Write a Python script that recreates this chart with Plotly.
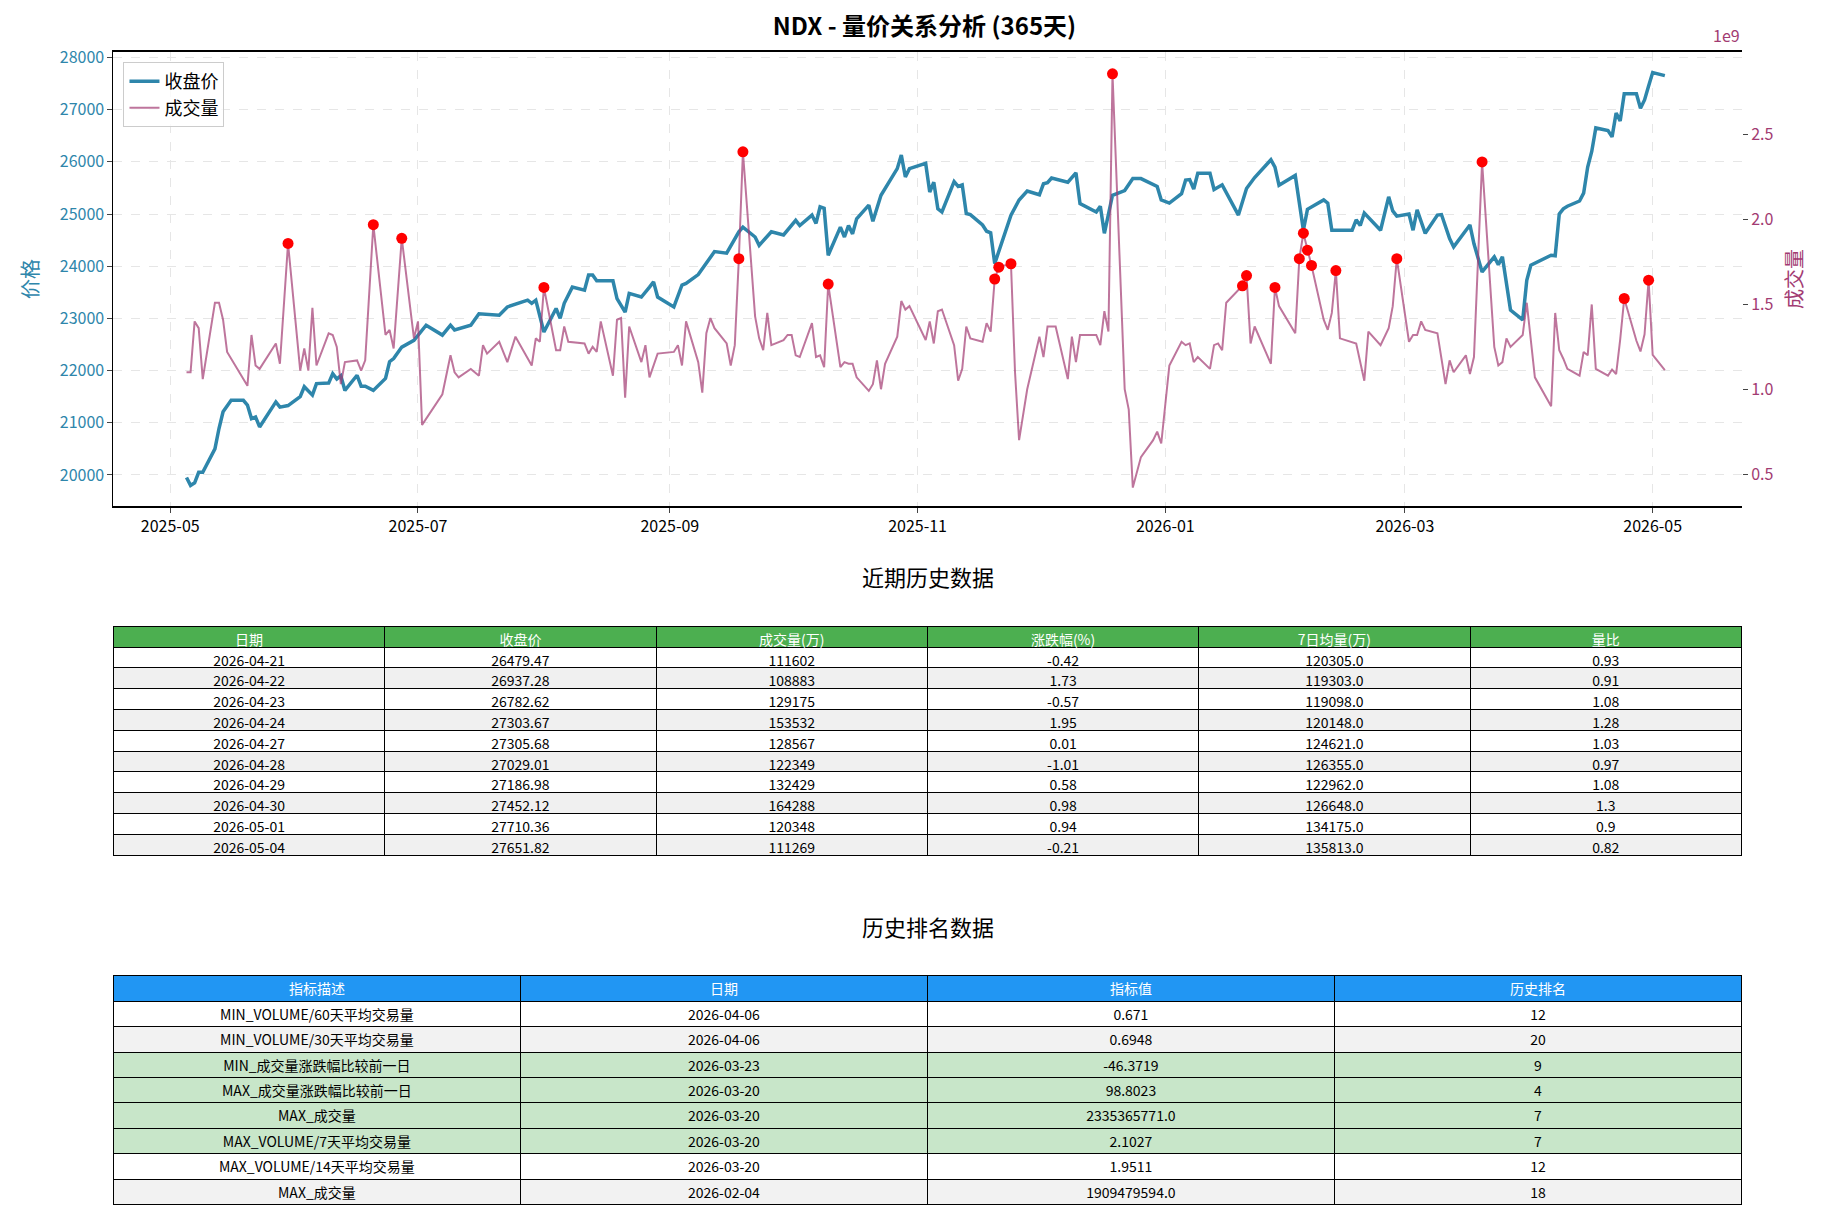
import plotly.graph_objects as go

FONT = "Noto Sans CJK SC"
C_PRICE = "#2E86AB"
C_VOL = "#A23B72"

price_dates = ["2025-05-05","2025-05-06","2025-05-07","2025-05-08","2025-05-09","2025-05-12","2025-05-13","2025-05-14",
    "2025-05-16","2025-05-19","2025-05-20","2025-05-21","2025-05-22","2025-05-23","2025-05-27","2025-05-28","2025-05-30",
    "2025-06-02","2025-06-03","2025-06-05","2025-06-06","2025-06-09","2025-06-10","2025-06-11","2025-06-12","2025-06-13",
    "2025-06-16","2025-06-17","2025-06-18","2025-06-20","2025-06-23","2025-06-24","2025-06-25","2025-06-27","2025-06-30",
    "2025-07-01","2025-07-03","2025-07-07","2025-07-09","2025-07-10","2025-07-14","2025-07-16","2025-07-21","2025-07-23",
    "2025-07-28","2025-07-29","2025-07-30","2025-08-01","2025-08-04","2025-08-05","2025-08-06","2025-08-08","2025-08-11",
    "2025-08-12","2025-08-13","2025-08-14","2025-08-18","2025-08-19","2025-08-21","2025-08-22","2025-08-25","2025-08-27",
    "2025-08-28","2025-08-29","2025-09-02","2025-09-04","2025-09-05","2025-09-08","2025-09-10","2025-09-12","2025-09-15",
    "2025-09-18","2025-09-19","2025-09-22","2025-09-23","2025-09-26","2025-09-29","2025-09-30","2025-10-02","2025-10-03",
    "2025-10-06","2025-10-07","2025-10-08","2025-10-09","2025-10-10","2025-10-13","2025-10-14","2025-10-15","2025-10-16",
    "2025-10-17","2025-10-20","2025-10-21","2025-10-23","2025-10-27","2025-10-28","2025-10-29","2025-10-30","2025-11-03",
    "2025-11-04","2025-11-05","2025-11-06","2025-11-07","2025-11-10","2025-11-11","2025-11-12","2025-11-13","2025-11-14",
    "2025-11-17","2025-11-18","2025-11-19","2025-11-20","2025-11-24","2025-11-26","2025-11-28","2025-12-01","2025-12-02",
    "2025-12-03","2025-12-04","2025-12-08","2025-12-10","2025-12-11","2025-12-15","2025-12-16","2025-12-17","2025-12-19",
    "2025-12-22","2025-12-24","2025-12-26","2025-12-30","2025-12-31","2026-01-02","2026-01-05","2026-01-06","2026-01-07",
    "2026-01-08","2026-01-09","2026-01-12","2026-01-13","2026-01-15","2026-01-19","2026-01-21","2026-01-23","2026-01-26",
    "2026-01-27","2026-01-28","2026-01-29","2026-02-02","2026-02-04","2026-02-05","2026-02-09","2026-02-10","2026-02-11",
    "2026-02-16","2026-02-17","2026-02-18","2026-02-19","2026-02-23","2026-02-25","2026-02-26","2026-02-27","2026-03-02",
    "2026-03-03","2026-03-04","2026-03-06","2026-03-09","2026-03-10","2026-03-12","2026-03-13","2026-03-17","2026-03-18",
    "2026-03-20","2026-03-23","2026-03-24","2026-03-25","2026-03-27","2026-03-30","2026-03-31","2026-04-01","2026-04-06",
    "2026-04-07","2026-04-08","2026-04-09","2026-04-10","2026-04-13","2026-04-14","2026-04-15","2026-04-16","2026-04-17",
    "2026-04-20","2026-04-21","2026-04-22","2026-04-23","2026-04-24","2026-04-27","2026-04-28","2026-04-29","2026-04-30",
    "2026-05-01","2026-05-04"]
price_vals = [19950,19800,19850,20050,20050,20500,20890,21210,
    21430,21430,21340,21080,21110,20920,21400,21300,21330,
    21500,21690,21530,21750,21760,21940,21840,21900,21620,
    21910,21700,21700,21620,21850,22170,22230,22450,22580,
    22680,22870,22680,22870,22780,22870,23090,23060,23220,
    23350,23290,23350,22740,23190,23000,23290,23600,23540,
    23830,23830,23720,23720,23380,23120,23480,23410,23600,
    23700,23410,23220,23640,23670,23840,24050,24280,24250,
    24660,24750,24560,24400,24660,24600,24700,24880,24780,
    24980,24820,25140,25110,24210,24750,24560,24780,24620,
    24910,25170,24860,25360,25870,26130,25710,25870,25970,
    25420,25610,25100,25040,25620,25530,25560,25010,24990,
    24790,24670,24640,24050,24980,25270,25440,25370,25580,
    25600,25690,25610,25790,25200,25040,25150,24630,25360,
    25450,25680,25680,25530,25270,25210,25390,25650,25660,
    25480,25780,25780,25470,25560,24980,25490,25700,25940,
    26040,25900,25550,25740,24690,25090,25270,25210,24690,
    24690,24890,24780,25020,24690,25330,25060,24960,25000,
    24690,25080,24630,24980,24990,24530,24370,24790,24430,
    23890,24180,24030,24180,23160,22970,23730,24020,24210,
    24200,25000,25100,25150,25250,25400,25900,26200,26650,
    26600,26479.47,26937.28,26782.62,27303.67,27305.68,27029.01,27186.98,27452.12,
    27710.36,27651.82]

# volume in units of 1e9 shares
vol_dates = ["2025-05-05","2025-05-06","2025-05-07","2025-05-08","2025-05-09","2025-05-12","2025-05-13","2025-05-14",
    "2025-05-15","2025-05-19","2025-05-20","2025-05-21","2025-05-22","2025-05-23","2025-05-27","2025-05-28","2025-05-30",
    "2025-06-02","2025-06-03","2025-06-04","2025-06-05","2025-06-06","2025-06-09","2025-06-10","2025-06-11","2025-06-12",
    "2025-06-13","2025-06-16","2025-06-17","2025-06-18","2025-06-20","2025-06-23","2025-06-24","2025-06-25","2025-06-27",
    "2025-06-30","2025-07-01","2025-07-02","2025-07-07","2025-07-09","2025-07-10","2025-07-11","2025-07-14","2025-07-16",
    "2025-07-17","2025-07-18","2025-07-21","2025-07-23","2025-07-25","2025-07-29","2025-07-30","2025-07-31","2025-08-01",
    "2025-08-04","2025-08-05","2025-08-06","2025-08-07","2025-08-11","2025-08-12","2025-08-13","2025-08-14","2025-08-15",
    "2025-08-18","2025-08-19","2025-08-20","2025-08-21","2025-08-22","2025-08-25","2025-08-26","2025-08-27","2025-08-29",
    "2025-09-02","2025-09-03","2025-09-04","2025-09-05","2025-09-08","2025-09-09","2025-09-10","2025-09-11","2025-09-12",
    "2025-09-15","2025-09-16","2025-09-17","2025-09-18","2025-09-19","2025-09-22","2025-09-23","2025-09-24","2025-09-25",
    "2025-09-26","2025-09-29","2025-09-30","2025-10-01","2025-10-02","2025-10-03","2025-10-06","2025-10-07","2025-10-08",
    "2025-10-09","2025-10-10","2025-10-13","2025-10-14","2025-10-15","2025-10-16","2025-10-17","2025-10-20","2025-10-21",
    "2025-10-22","2025-10-23","2025-10-24","2025-10-27","2025-10-28","2025-10-29","2025-10-30","2025-11-03","2025-11-04",
    "2025-11-05","2025-11-06","2025-11-07","2025-11-10","2025-11-11","2025-11-12","2025-11-13","2025-11-14","2025-11-17",
    "2025-11-18","2025-11-19","2025-11-20","2025-11-21","2025-11-24","2025-11-25","2025-11-26","2025-11-28","2025-12-01",
    "2025-12-02","2025-12-03","2025-12-05","2025-12-08","2025-12-09","2025-12-10","2025-12-11","2025-12-15","2025-12-16",
    "2025-12-17","2025-12-18","2025-12-19","2025-12-22","2025-12-23","2025-12-24","2025-12-26","2025-12-29","2025-12-30",
    "2025-12-31","2026-01-02","2026-01-05","2026-01-06","2026-01-07","2026-01-08","2026-01-09","2026-01-12","2026-01-13",
    "2026-01-14","2026-01-15","2026-01-16","2026-01-20","2026-01-21","2026-01-22","2026-01-23","2026-01-27","2026-01-28",
    "2026-01-29","2026-02-02","2026-02-03","2026-02-04","2026-02-05","2026-02-06","2026-02-09","2026-02-10","2026-02-11",
    "2026-02-12","2026-02-13","2026-02-17","2026-02-19","2026-02-20","2026-02-23","2026-02-25","2026-02-26","2026-02-27",
    "2026-03-02","2026-03-03","2026-03-04","2026-03-05","2026-03-06","2026-03-09","2026-03-11","2026-03-12","2026-03-13",
    "2026-03-16","2026-03-17","2026-03-18","2026-03-20","2026-03-23","2026-03-24","2026-03-25","2026-03-26","2026-03-27",
    "2026-03-30","2026-03-31","2026-04-02","2026-04-06","2026-04-07","2026-04-08","2026-04-09","2026-04-10","2026-04-13",
    "2026-04-14","2026-04-15","2026-04-16","2026-04-17","2026-04-20","2026-04-21","2026-04-22","2026-04-23","2026-04-24",
    "2026-04-27","2026-04-28","2026-04-29","2026-04-30","2026-05-01","2026-05-04"]
vol_vals = [1.10,1.10,1.40,1.36,1.06,1.51,1.51,1.41,
    1.22,1.06,1.02,1.32,1.14,1.12,1.27,1.15,1.86,
    1.11,1.24,1.11,1.48,1.14,1.33,1.32,1.25,1.03,
    1.16,1.17,1.11,1.17,1.97,1.32,1.35,1.24,1.89,
    1.30,1.40,0.79,0.97,1.20,1.10,1.07,1.12,1.08,
    1.26,1.21,1.28,1.16,1.31,1.14,1.30,1.28,1.60,
    1.23,1.23,1.37,1.28,1.27,1.21,1.25,1.22,1.40,
    1.08,1.41,1.42,0.95,1.37,1.16,1.26,1.07,1.21,
    1.22,1.26,1.14,1.40,1.16,0.98,1.33,1.42,1.36,
    1.27,1.14,1.26,1.77,2.40,1.43,1.30,1.23,1.45,
    1.26,1.29,1.32,1.32,1.20,1.19,1.39,1.19,1.20,
    1.13,1.62,1.13,1.16,1.15,1.15,1.07,0.99,1.03,
    1.17,1.00,1.15,1.31,1.52,1.47,1.49,1.29,1.40,
    1.27,1.46,1.47,1.26,1.05,1.12,1.37,1.30,1.28,
    1.39,1.34,1.65,1.72,1.74,1.10,0.70,1.00,1.31,
    1.19,1.37,1.37,1.06,1.31,1.16,1.32,1.32,1.26,
    1.46,1.34,2.86,1.00,0.88,0.42,0.60,0.70,0.75,
    0.68,1.14,1.28,1.26,1.27,1.16,1.19,1.12,1.26,
    1.27,1.23,1.51,1.61,1.67,1.27,1.37,1.15,1.60,
    1.49,1.33,1.77,1.92,1.82,1.73,1.41,1.35,1.45,
    1.70,1.30,1.27,1.05,1.34,1.26,1.36,1.49,1.77,
    1.28,1.32,1.32,1.40,1.35,1.33,1.03,1.17,1.10,
    1.20,1.09,1.19,2.34,1.25,1.14,1.16,1.30,1.25,
    1.32,1.51,1.07,0.90,1.45,1.23,1.18,1.12,1.08,
    1.22,1.20,1.50,1.12,1.08,1.116,1.089,1.292,1.535,
    1.286,1.223,1.324,1.643,1.203,1.113]

spike_dates = ["2025-05-30","2025-06-20","2025-06-27","2025-08-01","2025-09-18","2025-09-19","2025-10-10",
    "2025-11-20","2025-11-21","2025-11-24","2025-12-19","2026-01-20","2026-01-21","2026-01-28","2026-02-03",
    "2026-02-04","2026-02-05","2026-02-06","2026-02-12","2026-02-27","2026-03-20","2026-04-24","2026-04-30"]

recent_cols = ["日期", "收盘价", "成交量(万)", "涨跌幅(%)", "7日均量(万)", "量比"]
recent_dates = ["2026-04-21","2026-04-22","2026-04-23","2026-04-24","2026-04-27","2026-04-28","2026-04-29","2026-04-30","2026-05-01","2026-05-04"]
recent_close = ["26479.47","26937.28","26782.62","27303.67","27305.68","27029.01","27186.98","27452.12","27710.36","27651.82"]
recent_vol = ["111602","108883","129175","153532","128567","122349","132429","164288","120348","111269"]
recent_chg = ["-0.42","1.73","-0.57","1.95","0.01","-1.01","0.58","0.98","0.94","-0.21"]
recent_ma7 = ["120305.0","119303.0","119098.0","120148.0","124621.0","126355.0","122962.0","126648.0","134175.0","135813.0"]
recent_ratio = ["0.93","0.91","1.08","1.28","1.03","0.97","1.08","1.3","0.9","0.82"]

rank_cols = ["指标描述", "日期", "指标值", "历史排名"]
rank_desc = ["MIN_VOLUME/60天平均交易量","MIN_VOLUME/30天平均交易量","MIN_成交量涨跌幅比较前一日","MAX_成交量涨跌幅比较前一日",
    "MAX_成交量","MAX_VOLUME/7天平均交易量","MAX_VOLUME/14天平均交易量","MAX_成交量"]
rank_date = ["2026-04-06","2026-04-06","2026-03-23","2026-03-20","2026-03-20","2026-03-20","2026-03-20","2026-02-04"]
rank_value = ["0.671","0.6948","-46.3719","98.8023","2335365771.0","2.1027","1.9511","1909479594.0"]
rank_pos = ["12","20","9","4","7","7","12","18"]

vol_abs = [v * 1e9 for v in vol_vals]
vol_map = dict(zip(vol_dates, vol_abs))
spike_vals = [vol_map[d] for d in spike_dates]

XDOM = [0.0575, 0.946]

fig = go.Figure()
fig.add_trace(go.Scatter(x=price_dates, y=price_vals, mode="lines", name="收盘价",
                         line=dict(color=C_PRICE, width=3.5), yaxis="y"))
fig.add_trace(go.Scatter(x=vol_dates, y=vol_abs, mode="lines", name="成交量",
                         line=dict(color="rgba(162,59,114,0.7)", width=2), yaxis="y2"))
fig.add_trace(go.Scatter(x=spike_dates, y=spike_vals, mode="markers", showlegend=False,
                         marker=dict(color="red", size=11), yaxis="y2"))

cell_font = dict(family=FONT, size=14, color="black")
head_font = dict(family=FONT, size=14, color="white")
n1 = len(recent_dates)
fig.add_trace(go.Table(
    domain=dict(x=XDOM, y=[0.290, 0.4965]),
    header=dict(values=recent_cols, fill_color="#4CAF50", font=head_font,
                line_color="black", height=20.8, align="center"),
    cells=dict(values=[recent_dates, recent_close, recent_vol, recent_chg, recent_ma7, recent_ratio],
               fill_color=[["white" if i % 2 == 0 else "#f0f0f0" for i in range(n1)]] * 6,
               font=cell_font, line_color="black", height=20.8, align="center")))

rank_fill = ["white", "#f2f2f2", "#c8e6c9", "#c8e6c9", "#c8e6c9", "#c8e6c9", "white", "#f2f2f2"]
fig.add_trace(go.Table(
    domain=dict(x=XDOM, y=[0.004, 0.208]),
    header=dict(values=rank_cols, fill_color="#2196F3", font=head_font,
                line_color="black", height=25.4, align="center"),
    cells=dict(values=[rank_desc, rank_date, rank_value, rank_pos],
               fill_color=[rank_fill] * 4, font=cell_font, line_color="black",
               height=25.4, align="center")))

fig.update_layout(
    width=1833, height=1220, plot_bgcolor="white", paper_bgcolor="white",
    margin=dict(l=0, r=0, t=0, b=0),
    font=dict(family=FONT, size=16, color="black"),
    title=dict(text="<b>NDX - 量价关系分析 (365天)</b>", x=0.5, y=0.992, xanchor="center",
               font=dict(family=FONT, size=24)),
    xaxis=dict(domain=XDOM, type="date", range=["2025-04-17", "2026-05-23"],
               tick0="2025-05-01", dtick="M2", tickformat="%Y-%m", ticks="outside",
               showline=True, linecolor="black", linewidth=1.5, mirror=True,
               showgrid=True, gridcolor="#e6e6e6", griddash="dash",
               tickfont=dict(size=16), anchor="y"),
    yaxis=dict(domain=[0.5955, 0.9705], range=[19400, 28110], dtick=1000, tickformat="d",
               ticks="outside", title=dict(text="价格", font=dict(color=C_PRICE, size=20)),
               tickfont=dict(color=C_PRICE, size=16), showline=True, linecolor="black",
               showgrid=True, gridcolor="#e6e6e6", griddash="dash", zeroline=False),
    yaxis2=dict(overlaying="y", side="right", range=[0.31e9, 2.99e9], ticks="outside",
                tickvals=[0.5e9, 1.0e9, 1.5e9, 2.0e9, 2.5e9],
                ticktext=["0.5", "1.0", "1.5", "2.0", "2.5"],
                title=dict(text="成交量", font=dict(color=C_VOL, size=20)),
                tickfont=dict(color=C_VOL, size=16), showgrid=False, zeroline=False),
    legend=dict(x=0.063, y=0.962, xanchor="left", yanchor="top", bordercolor="#cccccc",
                borderwidth=1, bgcolor="rgba(255,255,255,0.8)", font=dict(size=18)),
    annotations=[
        dict(text="1e9", x=0.946, y=0.973, xref="paper", yref="paper", xanchor="right",
             yanchor="bottom", showarrow=False, font=dict(color=C_VOL, size=16)),
        dict(text="近期历史数据", x=0.502, y=0.538, xref="paper", yref="paper",
             showarrow=False, font=dict(size=22)),
        dict(text="历史排名数据", x=0.502, y=0.234, xref="paper", yref="paper",
             showarrow=False, font=dict(size=22)),
    ],
)

fig.write_html("out.html")
